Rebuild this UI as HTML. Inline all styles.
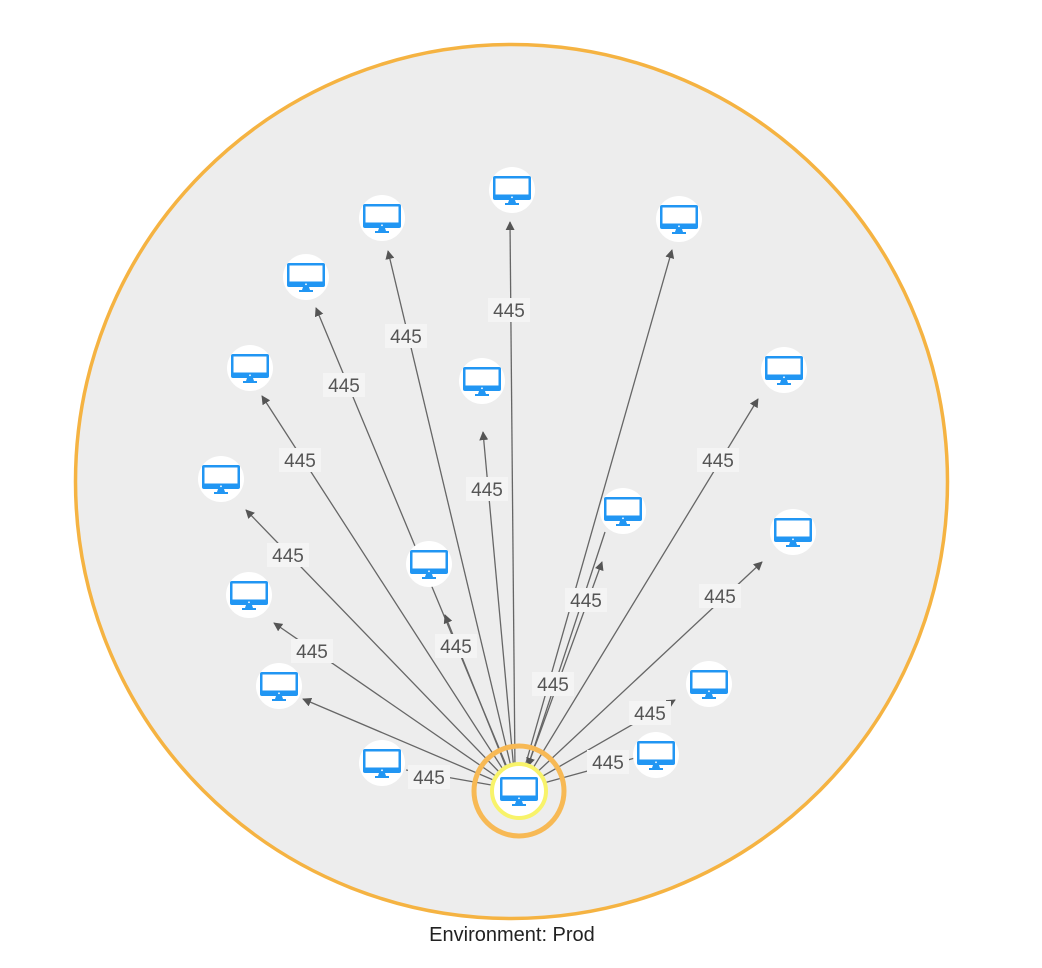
<!DOCTYPE html>
<html><head><meta charset="utf-8"><style>
html,body{margin:0;padding:0;background:#fff;}
svg{display:block;}
text{font-family:"Liberation Sans",sans-serif;}
</style></head><body>
<svg width="1042" height="968" viewBox="0 0 1042 968" xmlns="http://www.w3.org/2000/svg">
<defs>
<marker id="a" viewBox="0 0 10 10" refX="9" refY="5" markerWidth="9" markerHeight="9" orient="auto" markerUnits="userSpaceOnUse"><path d="M0,0 L10,5 L0,10 z" fill="#555"/></marker>
<g id="m">
<circle r="23" fill="#fff"/>
<rect x="-19" y="-14" width="38" height="24" rx="2" fill="#2196f3"/>
<rect x="-16.5" y="-11.5" width="33" height="16" fill="#fff"/>
<circle cx="0" cy="7.3" r="0.9" fill="#fff"/>
<path d="M-3,10 L3,10 L4,13 L-4,13 z" fill="#2196f3"/>
<rect x="-7" y="13" width="14" height="2" fill="#2196f3"/>
</g>
</defs>
<ellipse cx="511.5" cy="481.5" rx="436" ry="437" fill="#ededed" stroke="#f5b342" stroke-width="3.5"/>
<g stroke="#666" stroke-width="1.3" fill="none">
<line x1="515" y1="770" x2="510" y2="222" marker-end="url(#a)"/>
<line x1="512" y1="771" x2="388" y2="251" marker-end="url(#a)"/>
<line x1="524" y1="770" x2="672" y2="250" marker-end="url(#a)"/>
<line x1="509" y1="772" x2="316" y2="308" marker-end="url(#a)"/>
<line x1="506" y1="774" x2="262" y2="396" marker-end="url(#a)"/>
<line x1="514" y1="771" x2="483" y2="432" marker-end="url(#a)"/>
<line x1="530" y1="773" x2="758" y2="399" marker-end="url(#a)"/>
<line x1="503" y1="776" x2="246" y2="510" marker-end="url(#a)"/>
<line x1="526" y1="771" x2="602" y2="562" marker-end="url(#a)"/>
<line x1="533" y1="776" x2="762" y2="562" marker-end="url(#a)"/>
<line x1="508" y1="772" x2="445" y2="615" marker-end="url(#a)"/>
<line x1="500" y1="779" x2="274" y2="623" marker-end="url(#a)"/>
<line x1="498" y1="782" x2="303" y2="699" marker-end="url(#a)"/>
<line x1="536" y1="780" x2="675" y2="700" marker-end="url(#a)"/>
<line x1="497" y1="786" x2="406" y2="770"/>
<line x1="540" y1="784" x2="635" y2="758"/>
<line x1="605" y1="532" x2="528" y2="766" marker-end="url(#a)"/>
</g>
<g font-size="19" fill="#555" text-anchor="middle">
<g fill="#f4f4f4">
<rect x="488" y="298" width="42" height="24"/><rect x="385" y="324" width="42" height="24"/>
<rect x="323" y="373" width="42" height="24"/><rect x="279" y="448" width="42" height="24"/>
<rect x="466" y="477" width="42" height="24"/><rect x="697" y="448" width="42" height="24"/>
<rect x="267" y="543" width="42" height="24"/><rect x="565" y="588" width="42" height="24"/>
<rect x="699" y="584" width="42" height="24"/><rect x="435" y="634" width="42" height="24"/>
<rect x="291" y="639" width="42" height="24"/><rect x="532" y="672" width="42" height="24"/>
<rect x="629" y="701" width="42" height="24"/><rect x="408" y="765" width="42" height="24"/>
<rect x="587" y="750" width="42" height="24"/>
</g>
<text x="509" y="317">445</text><text x="406" y="343">445</text>
<text x="344" y="392">445</text><text x="300" y="467">445</text>
<text x="487" y="496">445</text><text x="718" y="467">445</text>
<text x="288" y="562">445</text><text x="586" y="607">445</text>
<text x="720" y="603">445</text><text x="456" y="653">445</text>
<text x="312" y="658">445</text><text x="553" y="691">445</text>
<text x="650" y="720">445</text><text x="429" y="784">445</text>
<text x="608" y="769">445</text>
</g>
<circle cx="519" cy="791" r="45" fill="none" stroke="#f7b955" stroke-width="5"/>
<circle cx="519" cy="791" r="27" fill="#fff" stroke="#f8f36a" stroke-width="4"/>
<use href="#m" x="519" y="791"/>
<use href="#m" x="512" y="190"/><use href="#m" x="382" y="218"/>
<use href="#m" x="679" y="219"/><use href="#m" x="306" y="277"/>
<use href="#m" x="250" y="368"/><use href="#m" x="482" y="381"/>
<use href="#m" x="784" y="370"/><use href="#m" x="221" y="479"/>
<use href="#m" x="623" y="511"/><use href="#m" x="793" y="532"/>
<use href="#m" x="429" y="564"/><use href="#m" x="249" y="595"/>
<use href="#m" x="279" y="686"/><use href="#m" x="709" y="684"/>
<use href="#m" x="382" y="763"/><use href="#m" x="656" y="755"/>
<text x="512" y="941" font-size="20" fill="#222" text-anchor="middle">Environment: Prod</text>
</svg>
</body></html>
